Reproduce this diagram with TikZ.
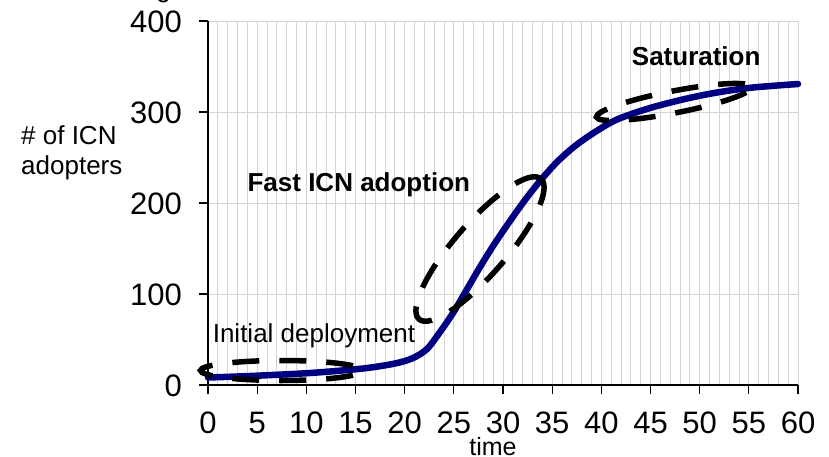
\documentclass[tikz,border=0pt]{standalone}
\usepackage{fontspec}
\setmainfont{Liberation Sans}
\definecolor{gridgray}{RGB}{212,212,212}
\definecolor{curveblue}{RGB}{0,0,128}
\begin{document}
\begin{tikzpicture}[x=1pt,y=-1pt,
  gridline/.style={draw=gridgray,line width=0.9pt},
  axisline/.style={draw=black,line width=1.3pt},
  ticklabel/.style={inner sep=0pt,font=\fontsize{31}{36}\selectfont},
  note/.style={inner sep=0pt,anchor=base west,font=\fontsize{26}{30}\selectfont},
  boldnote/.style={note,font=\fontsize{26}{30}\selectfont\bfseries},
  ring/.style={draw=black,line width=5.5pt,dash pattern=on 27pt off 20pt},
  adoption/.style={draw=curveblue,line width=6.5pt,line join=round,line cap=round}]
\useasboundingbox (0,0) rectangle (829,457);

% grid: one vertical line per time step, one horizontal line per 100 adopters
\foreach \t in {1,...,60}
  \draw[gridline] ({208+9.8333*\t},21) -- ({208+9.8333*\t},385);
\foreach \v in {100,200,300,400}
  \draw[gridline] (208,{385-0.91*\v}) -- (798,{385-0.91*\v});

% axes, ticks and tick labels
\draw[axisline] (208,21) -- (208,385) -- (798,385);
\foreach \v in {0,100,...,400} {
  \draw[axisline] (199,{385-0.91*\v}) -- (208,{385-0.91*\v});
  \node[ticklabel,anchor=base east] (y\v) at (182,{385-0.91*\v+11.2}) {\v};
}
\foreach \t in {0,5,...,60} {
  \draw[axisline] ({208+9.8333*\t},385) -- ({208+9.8333*\t},394);
  \node[ticklabel,anchor=base] (x\t) at ({208+9.8333*\t},433.3) {\t};
}

% adoption curve
\draw[adoption] plot[smooth,tension=0.5] coordinates {
  (208,377.5) (250,376) (310,373) (363,368.5) (395,363.5) (413,358)
  (427,349) (440,332) (453,313) (466,291) (480,267) (495,243)
  (510,221) (525,200) (540,181) (557,162) (575,146) (595,132)
  (617,119.5) (650,108) (687,98.5) (720,92) (753,87.5) (798,84)};

% dashed rings around the three phases
\draw[ring,dash phase=36pt] (281.5,370.5) ellipse [x radius=81,y radius=10];
\draw[ring,dash phase=46.5pt,rotate around={49:(480,249)}]
  (480,249) ellipse [x radius=93,y radius=26];
\draw[ring,dash phase=39pt,rotate around={11:(674,102)}]
  (674,102) ellipse [x radius=79,y radius=11];

% labels
\node[note] (ylabA) at (21,145) {\# of ICN};
\node[note] (ylabB) at (21,175) {adopters};
\node[note] (init) at (212.6,342.7) {Initial deployment};
\node[boldnote] (fast) at (247.4,191.7) {Fast ICN adoption};
\node[boldnote] (sat) at (631.7,66) {Saturation};
\node[note,anchor=base,font=\fontsize{25}{30}\selectfont] (time) at (493,455.5) {time};
\node[note,anchor=base] (cut) at (163.5,-2.2) {g};
\end{tikzpicture}
\end{document}
